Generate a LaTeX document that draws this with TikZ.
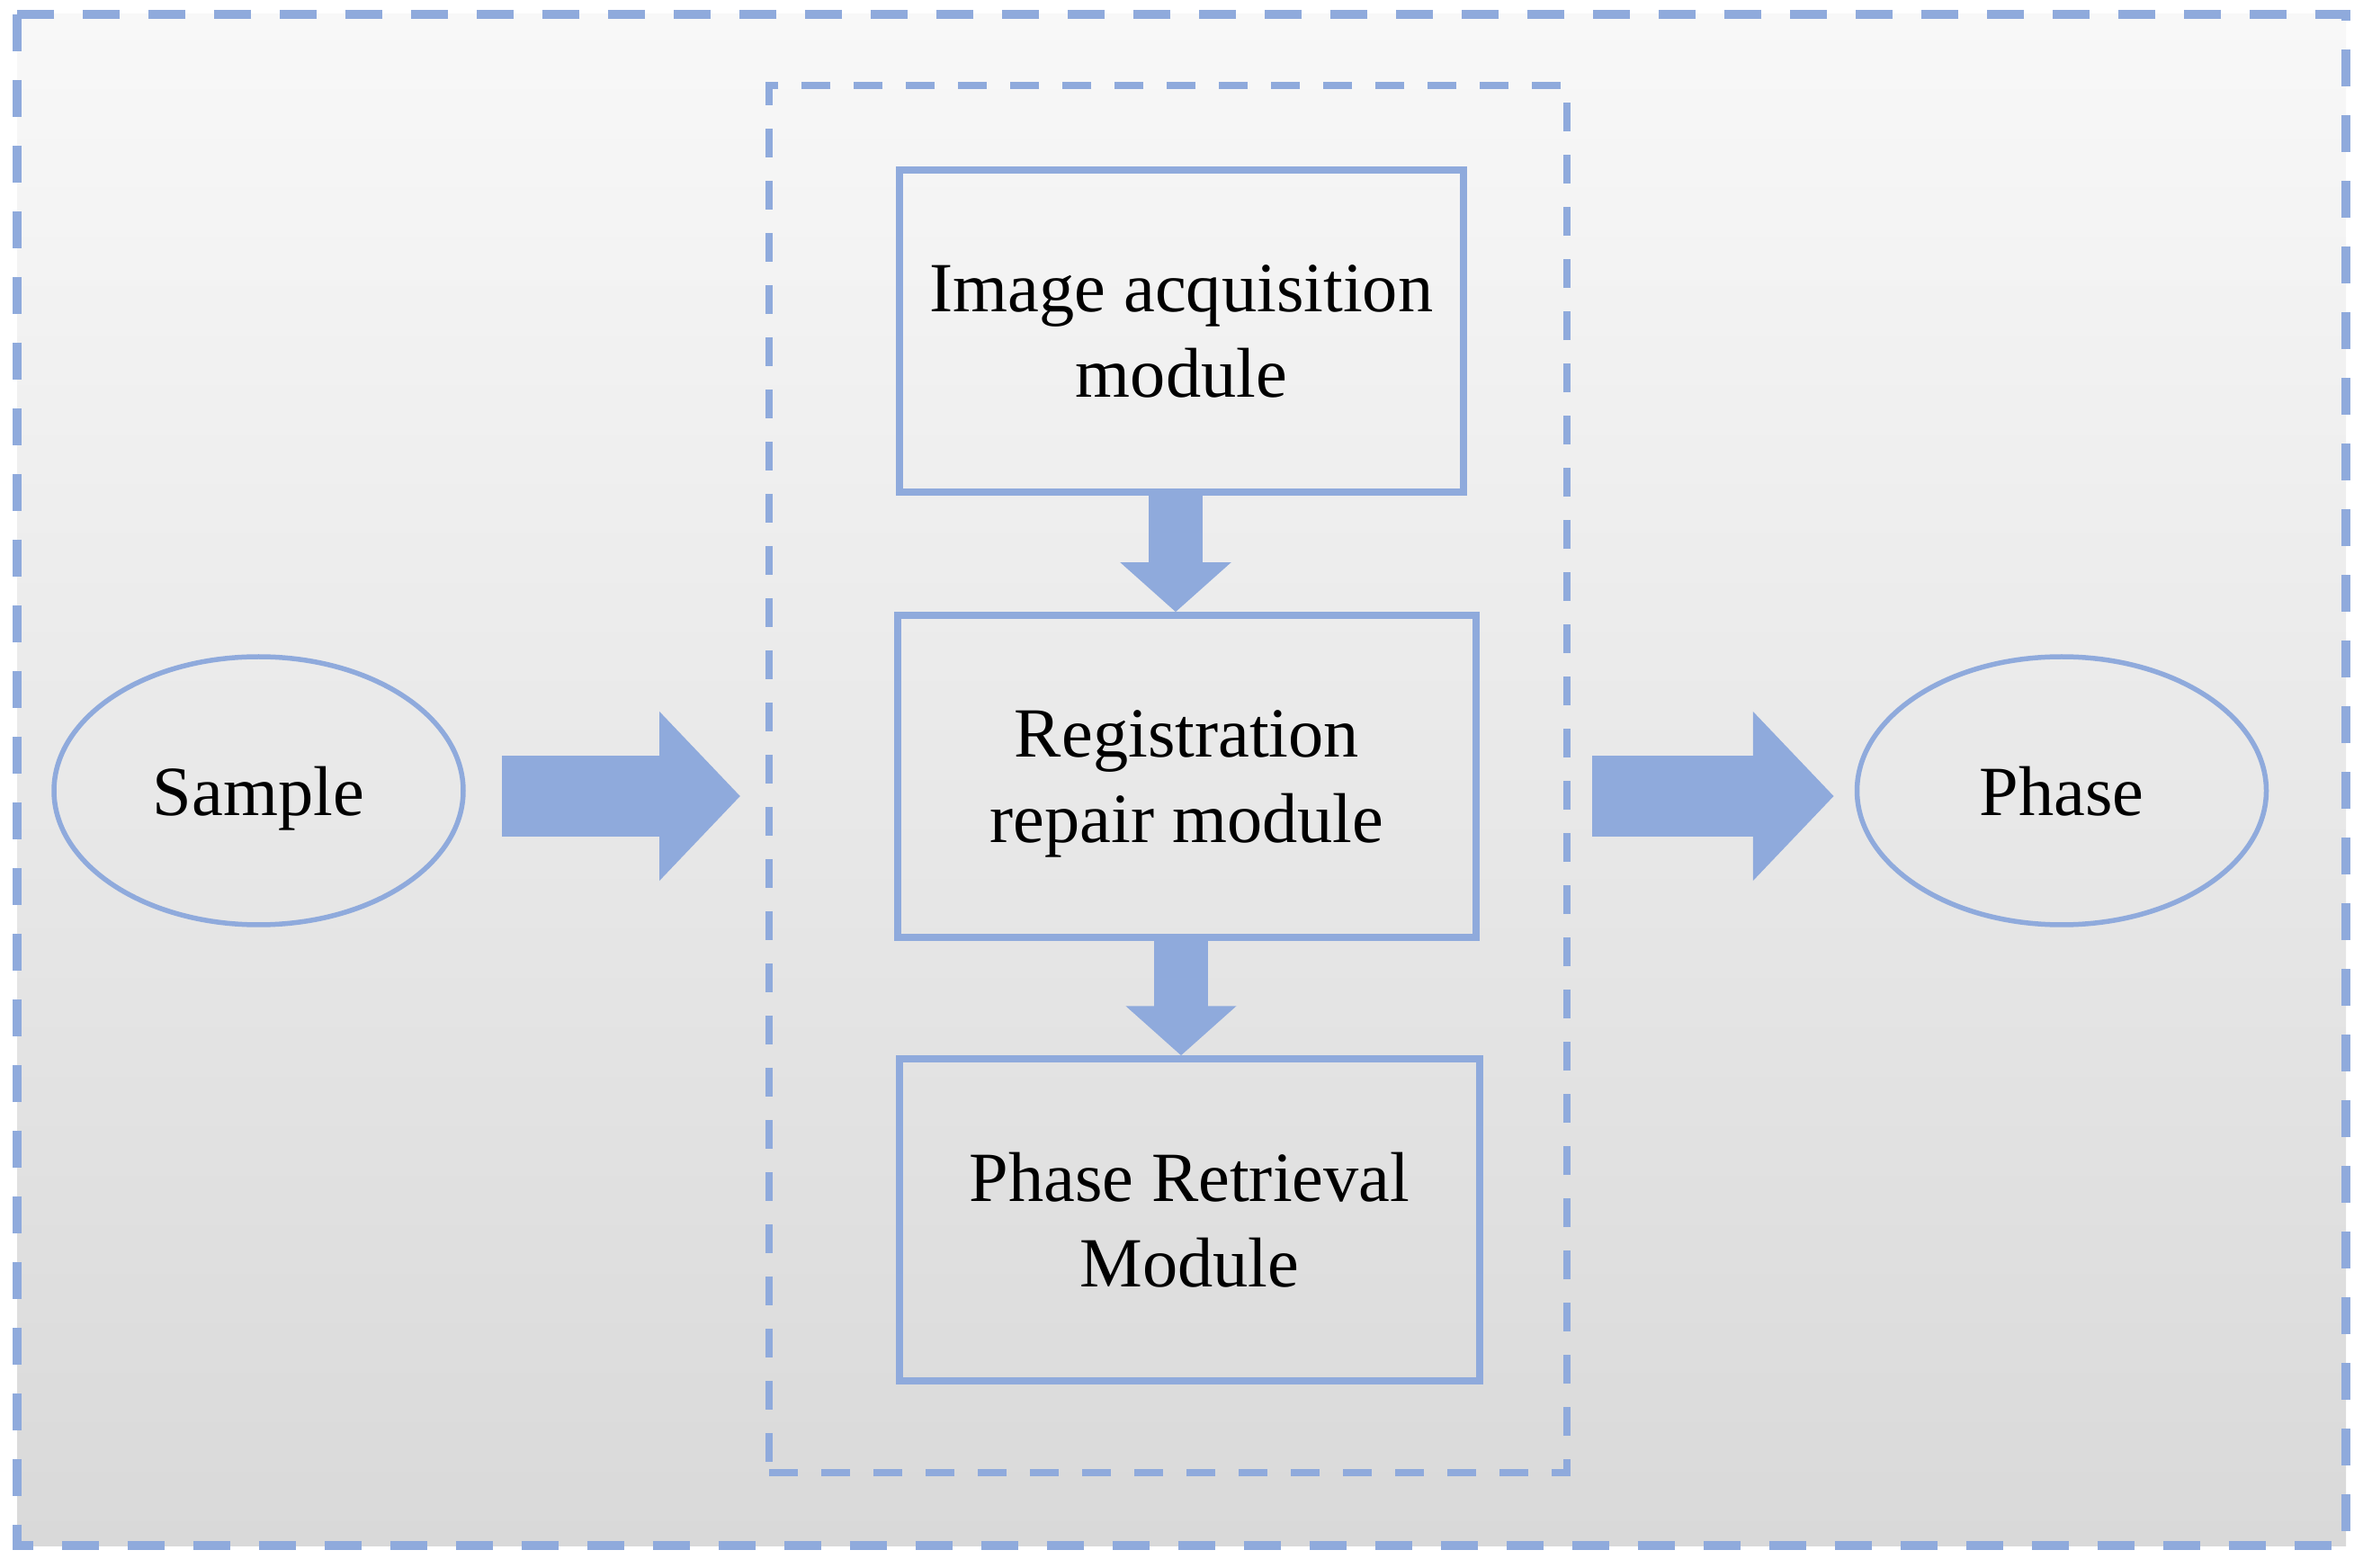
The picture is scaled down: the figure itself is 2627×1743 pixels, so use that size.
\documentclass[tikz,border=0pt]{standalone}
\usepackage{fontspec}
\setmainfont{Liberation Serif}
\usepackage{xcolor}
\usepackage{tikz}
\usetikzlibrary{arrows.meta,shapes.geometric}
\definecolor{modblue}{HTML}{8FAADC}
\definecolor{bgtop}{HTML}{F8F8F8}
\definecolor{bgbot}{HTML}{D9D9D9}
\newcommand{\modfont}{\fontsize{22.3pt}{27pt}\selectfont}

\begin{document}
\begin{tikzpicture}[x=0.1mm,y=-0.1mm,
  modbox/.style={draw=modblue,line width=0.75mm,minimum height=35.8mm,inner sep=0pt,align=center,font=\modfont,text depth=0pt},
  endpoint/.style={ellipse,draw=modblue,line width=0.55mm,minimum width=45.5mm,minimum height=29.8mm,inner sep=0pt,font=\modfont,text depth=0pt},
  downarrow/.style={color=modblue,line width=6mm,-{Triangle[width=12mm,length=5.5mm]}},
  sidearrow/.style={color=modblue,line width=9mm,-{Triangle[width=18.3mm,length=9mm]}}]
\useasboundingbox (0,0) rectangle (2627,1743);
% ---- FRAME ----
\draw[draw=modblue,line width=1mm,dash pattern=on 4.1mm off 3.2mm,top color=bgtop,bottom color=bgbot] (19,16) rectangle (2608,1718);
\node[draw=modblue,line width=0.8mm,dash pattern=on 3.2mm off 2.6mm,minimum width=88.7mm,minimum height=154.2mm] (core) at (1298.5,866) {};
% ---- MODULES ----
\node[modbox,minimum width=62.7mm] (img) at (1313.5,368) {Image acquisition\\module};
\node[modbox,minimum width=64.3mm] (reg) at (1319.5,863) {Registration\\repair module};
\node[modbox,minimum width=64.5mm] (ret) at (1322.5,1356) {Phase Retrieval\\Module};
\node[endpoint] (sample) at (287.5,879) {Sample};
\node[endpoint] (phase) at (2292,879) {Phase};
% ---- ARROWS ----
\draw[downarrow] ([xshift=-0.65mm]img.south) -- ([xshift=-0.65mm]img.south |- reg.north);
\draw[downarrow] ([xshift=-0.65mm]reg.south) -- ([xshift=-0.65mm]reg.south |- ret.north);
\draw[sidearrow,shorten <=4mm,shorten >=2.8mm] ([yshift=-0.6mm]sample.east) -- ([yshift=-0.6mm]sample.east -| core.west);
\draw[sidearrow,shorten <=2.4mm,shorten >=2.3mm] ([yshift=-0.6mm]phase.west -| core.east) -- ([yshift=-0.6mm]phase.west);
\end{tikzpicture}
\end{document}
